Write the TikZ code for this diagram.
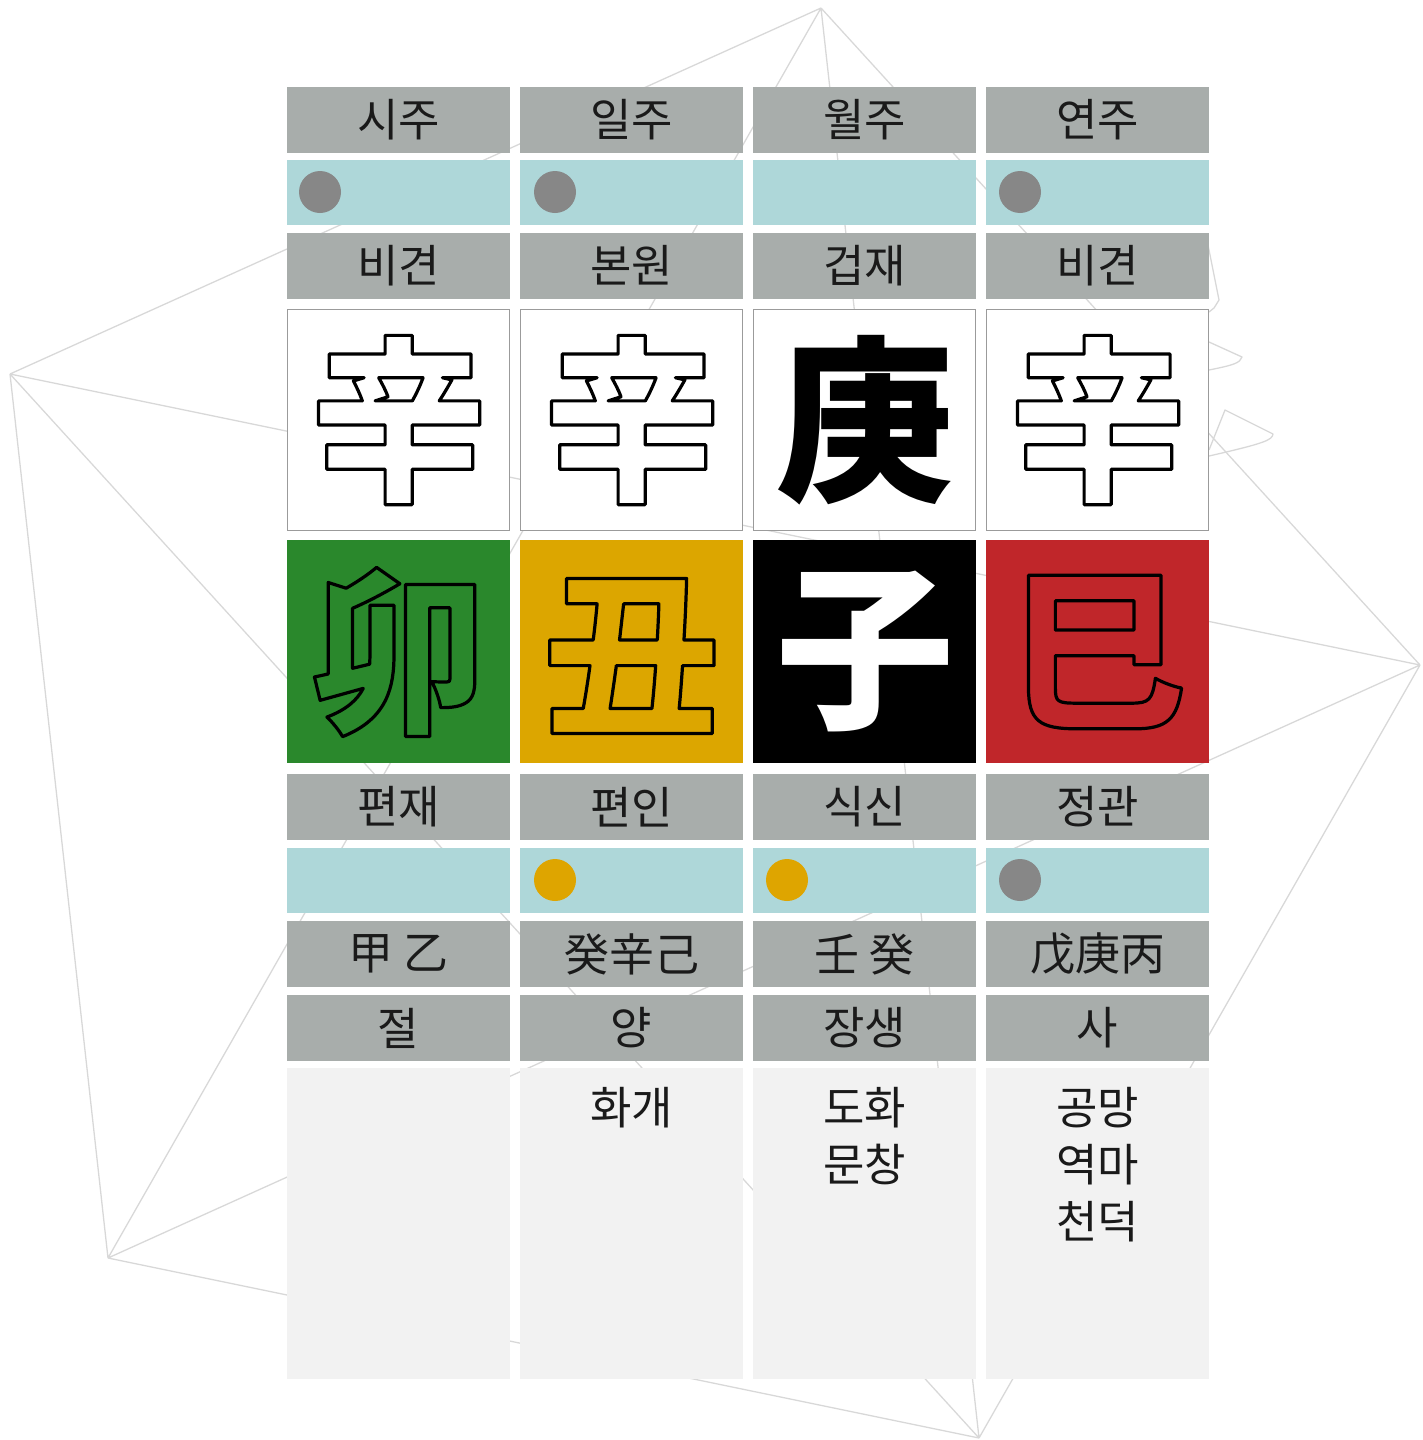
\documentclass[tikz,border=0pt]{standalone}
\usepackage{fontspec}
\newfontfamily\kr{Noto Sans CJK KR}
\definecolor{hdr}{HTML}{A8ADAB}
\definecolor{tealrow}{HTML}{AED7D9}
\definecolor{pale}{HTML}{F2F2F2}
\definecolor{wood}{HTML}{2A882C}
\definecolor{earth}{HTML}{DCA600}
\definecolor{fire}{HTML}{C0262A}
\definecolor{dotgray}{HTML}{878787}
\definecolor{dotgold}{HTML}{DEA500}
\definecolor{ghost}{HTML}{D8D8D8}
\definecolor{boxline}{HTML}{9B9B9B}
\definecolor{ink}{HTML}{1A1A1A}
% glyph filled with the current colour and stroked in black
\newcommand{\strokedglyph}[1]{\special{pdf:literal direct 0 0 0 RG 3.2 w 1 j 2 Tr}#1\special{pdf:literal direct 0 Tr}}
\begin{document}
\begin{tikzpicture}[x=1pt,y=-1pt,
  cellbox/.style={rectangle, inner sep=0, minimum width=223, anchor=center},
  lab/.style={cellbox, fill=hdr, minimum height=66, text=ink, font=\kr\fontsize{45}{45}\selectfont},
  dotrow/.style={cellbox, fill=tealrow, minimum height=65},
  bigbox/.style={cellbox, fill=white, draw=boxline, line width=1.5, minimum width=222, minimum height=221},
  colbox/.style={cellbox, minimum height=223},
  palebox/.style={cellbox, fill=pale, minimum height=311},
  bigglyph/.style={inner sep=0, anchor=center, font=\kr\bfseries\fontsize{178}{178}\selectfont},
  dotg/.style={circle, fill=dotgray, minimum size=42, inner sep=0},
  doty/.style={circle, fill=dotgold, minimum size=42, inner sep=0},
  ghostline/.style={draw=ghost, line width=1.3, line join=round},
  notes/.style={anchor=north, align=center, text=ink, inner sep=0, font=\kr\fontsize{45}{57}\selectfont}
]
\useasboundingbox (0,0) rectangle (1423,1440);
% background star (complete graph on five points)
\coordinate (T) at (821,8);
\coordinate (L) at (10,374);
\coordinate (R) at (1420,665);
\coordinate (BL) at (108,1258);
\coordinate (B) at (979,1438);
\draw[ghostline] (T) -- (L) (T) -- (R) (T) -- (BL) (T) -- (B)
  (L) -- (R) (L) -- (BL) (L) -- (B) (R) -- (BL) (R) -- (B) (BL) -- (B);
% faint outline fragments at the right edge
\draw[ghostline] (1207,240) -- (1219,300) -- (1214,308) -- (1209,312);
\draw[ghostline] (1209,342) -- (1242,357) .. controls (1240,363) and (1234,365) .. (1209,370);
\draw[ghostline] (1209,450) -- (1225,410) -- (1273,434) .. controls (1272,440) and (1266,443) .. (1209,456);
% row 1
\node[lab] (h1) at (398.5,120) {시주};
\node[lab] (h2) at (631.5,120) {일주};
\node[lab] (h3) at (864.5,120) {월주};
\node[lab] (h4) at (1097.5,120) {연주};
% row 2
\node[dotrow] (p1) at (398.5,192.5) {};
\node[dotrow] (p2) at (631.5,192.5) {};
\node[dotrow] (p3) at (864.5,192.5) {};
\node[dotrow] (p4) at (1097.5,192.5) {};
\node[dotg] (pd1) at (320,192) {};
\node[dotg] (pd2) at (555,192) {};
\node[dotg] (pd4) at (1020,192) {};
% row 3
\node[lab] (s1) at (398.5,265.5) {비견};
\node[lab] (s2) at (631.5,265.5) {본원};
\node[lab] (s3) at (864.5,265.5) {겁재};
\node[lab] (s4) at (1097.5,265.5) {비견};
% row 4 heavenly stems
\node[bigbox] (b1) at (398.5,420) {};
\node[bigbox] (b2) at (631.5,420) {};
\node[bigbox] (b3) at (864.5,420) {};
\node[bigbox] (b4) at (1097.5,420) {};
\node[bigglyph, text=white] (g1) at (399,420) {\strokedglyph{辛}};
\node[bigglyph, text=white] (g2) at (632,420) {\strokedglyph{辛}};
\node[bigglyph, text=black] (g3) at (865,420) {庚};
\node[bigglyph, text=white] (g4) at (1098,420) {\strokedglyph{辛}};
% row 5 earthly branches
\node[colbox, fill=wood] (c1) at (398.5,651.5) {};
\node[colbox, fill=earth] (c2) at (631.5,651.5) {};
\node[colbox, fill=black] (c3) at (864.5,651.5) {};
\node[colbox, fill=fire] (c4) at (1097.5,651.5) {};
\node[bigglyph, text=wood] (e1) at (399,652) {\strokedglyph{卯}};
\node[bigglyph, text=earth] (e2) at (632,656) {\strokedglyph{丑}};
\node[bigglyph, text=white] (e3) at (865,652) {子};
\node[bigglyph, text=fire] (e4) at (1097,652) {\strokedglyph{巳}};
% row 6
\node[lab] (t1) at (398.5,807) {편재};
\node[lab] (t2) at (631.5,807) {편인};
\node[lab] (t3) at (864.5,807) {식신};
\node[lab] (t4) at (1097.5,807) {정관};
% row 7
\node[dotrow] (q1) at (398.5,880.5) {};
\node[dotrow] (q2) at (631.5,880.5) {};
\node[dotrow] (q3) at (864.5,880.5) {};
\node[dotrow] (q4) at (1097.5,880.5) {};
\node[doty] (qd2) at (555,880) {};
\node[doty] (qd3) at (787,880) {};
\node[dotg] (qd4) at (1020,880) {};
% row 8 hidden stems
\node[lab] (j1) at (398.5,954) {甲 乙};
\node[lab] (j2) at (631.5,954) {癸辛己};
\node[lab] (j3) at (864.5,954) {壬 癸};
\node[lab] (j4) at (1097.5,954) {戊庚丙};
% row 9
\node[lab] (u1) at (398.5,1028) {절};
\node[lab] (u2) at (631.5,1028) {양};
\node[lab] (u3) at (864.5,1028) {장생};
\node[lab] (u4) at (1097.5,1028) {사};
% row 10
\node[palebox] (m1) at (398.5,1223.5) {};
\node[palebox] (m2) at (631.5,1223.5) {};
\node[palebox] (m3) at (864.5,1223.5) {};
\node[palebox] (m4) at (1097.5,1223.5) {};
\node[notes] (n2) at (631.5,1087) {화개};
\node[notes] (n3) at (864.5,1087) {도화\\문창};
\node[notes] (n4) at (1097.5,1087) {공망\\역마\\천덕};
\end{tikzpicture}
\end{document}
